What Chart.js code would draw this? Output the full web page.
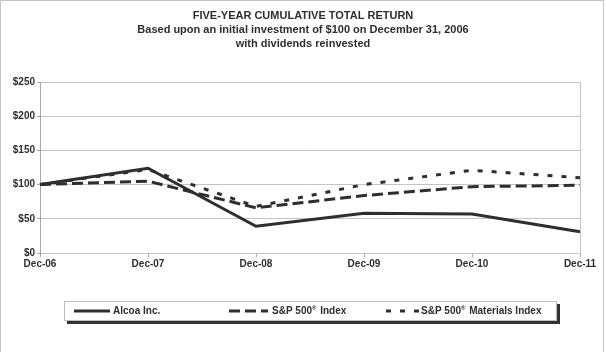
<!DOCTYPE html>
<html lang="en">
<head>
    <meta charset="UTF-8">
    <title>Five-Year Cumulative Total Return</title>
    <script src="https://cdn.jsdelivr.net/npm/chart.js"></script>
    <style>
        html, body { margin: 0; padding: 0; background: #ffffff; }
        #wrap { width: 606px; height: 352px; position: relative; }
    </style>
</head>
<body>
    <div id="wrap">
        <canvas id="lineChart" width="606" height="352"></canvas>
    </div>
    <script>
        // data
        var years = ['Dec-06', 'Dec-07', 'Dec-08', 'Dec-09', 'Dec-10', 'Dec-11'];
        var alcoa = [100, 124, 39, 58, 57, 31];
        var sp500 = [100, 105, 66, 84, 97, 99];
        var materials = [100, 122, 68, 100, 121, 110];
        var seriesNames = ['Alcoa Inc.', 'S&P 500\u00AE Index', 'S&P 500\u00AE Materials Index'];
        var titleLines = [
            'FIVE-YEAR CUMULATIVE TOTAL RETURN',
            'Based upon an initial investment of $100 on December 31, 2006',
            'with dividends reinvested'
        ];

        var ink = '#2e2e2e';
        var dashes = [[], [11, 5], [5, 9]];
        var font = '"Liberation Sans", Arial, sans-serif';

        // legend text, with the ® set smaller and raised
        function drawName(c, name, x, y) {
            var parts = name.split('\u00AE');
            c.font = 'bold 10px ' + font;
            c.fillText(parts[0], x, y);
            if (parts.length < 2) return;
            x += c.measureText(parts[0]).width;
            c.font = 'bold 6px ' + font;
            c.fillText('\u00AE', x, y - 3);
            x += c.measureText('\u00AE').width + 1;
            c.font = 'bold 10px ' + font;
            c.fillText(parts[1], x, y);
        }

        // title, outer frame and boxed legend
        var decorations = {
            id: 'decorations',
            beforeDraw: function (chart) {
                var c = chart.ctx;
                c.save();
                c.fillStyle = '#ffffff';
                c.fillRect(0, 0, chart.width, chart.height);
                c.strokeStyle = '#c4c4c4';
                c.lineWidth = 1;
                c.beginPath();
                c.moveTo(0.5, 352);
                c.lineTo(0.5, 0.5);
                c.lineTo(603.5, 0.5);
                c.lineTo(603.5, 352);
                c.stroke();
                c.restore();
            },
            afterDraw: function (chart) {
                var c = chart.ctx;
                c.save();
                c.fillStyle = ink;
                c.textAlign = 'center';
                c.textBaseline = 'middle';
                c.font = 'bold 11px ' + font;
                titleLines.forEach(function (t, i) {
                    c.fillText(t, 303, 16 + i * 14);
                });

                // legend box with shadow
                c.fillStyle = '#333333';
                c.fillRect(67, 304, 493, 20);
                c.fillStyle = '#ffffff';
                c.fillRect(64, 301, 493, 20);
                c.strokeStyle = '#bdbdbd';
                c.lineWidth = 1;
                c.strokeRect(64.5, 301.5, 492, 19);

                var items = [
                    { x1: 74, x2: 110, tx: 113 },
                    { x1: 229, x2: 268, tx: 272 },
                    { x1: 386, x2: 420, tx: 421 }
                ];
                c.textAlign = 'left';
                items.forEach(function (it, i) {
                    c.strokeStyle = ink;
                    c.lineWidth = 3;
                    c.setLineDash(dashes[i]);
                    c.beginPath();
                    c.moveTo(it.x1, 311);
                    c.lineTo(it.x2, 311);
                    c.stroke();
                    c.setLineDash([]);
                    c.fillStyle = ink;
                    drawName(c, seriesNames[i], it.tx, 311);
                });
                c.restore();
            }
        };

        var data = {
            labels: years,
            datasets: [alcoa, sp500, materials].map(function (vals, i) {
                return {
                    label: seriesNames[i],
                    data: vals,
                    borderColor: ink,
                    borderWidth: 3,
                    borderDash: dashes[i],
                    pointRadius: 0,
                    tension: 0,
                    fill: false
                };
            })
        };

        var options = {
            responsive: false,
            animation: false,
            layout: { padding: { top: 82, left: 0, right: 26, bottom: 0 } },
            plugins: {
                legend: { display: false },
                title: { display: false },
                tooltip: { enabled: false }
            },
            scales: {
                x: {
                    offset: false,
                    afterFit: function (axis) { axis.height = 99; },
                    grid: {
                        drawOnChartArea: true,
                        color: function (ctx) {
                            return ctx.index === years.length - 1 ? '#c4c4c4' : 'rgba(0,0,0,0)';
                        },
                        tickColor: '#a8a8a8',
                        tickLength: 4
                    },
                    border: { color: '#c4c4c4' },
                    ticks: {
                        color: ink,
                        font: { family: font, size: 10, weight: 'bold' },
                        padding: 1,
                        maxRotation: 0
                    }
                },
                y: {
                    min: 0,
                    max: 250,
                    afterFit: function (axis) { axis.width = 40; },
                    grid: {
                        color: '#c4c4c4',
                        tickColor: '#a8a8a8',
                        tickLength: 3
                    },
                    border: { color: '#a8a8a8' },
                    ticks: {
                        stepSize: 50,
                        color: ink,
                        padding: 2,
                        font: { family: font, size: 10, weight: 'bold' },
                        callback: function (v) { return '$' + v; }
                    }
                }
            }
        };

        var ctx = document.getElementById('lineChart').getContext('2d');
        new Chart(ctx, {
            type: 'line',
            data: data,
            options: options,
            plugins: [decorations]
        });
    </script>
</body>
</html>
